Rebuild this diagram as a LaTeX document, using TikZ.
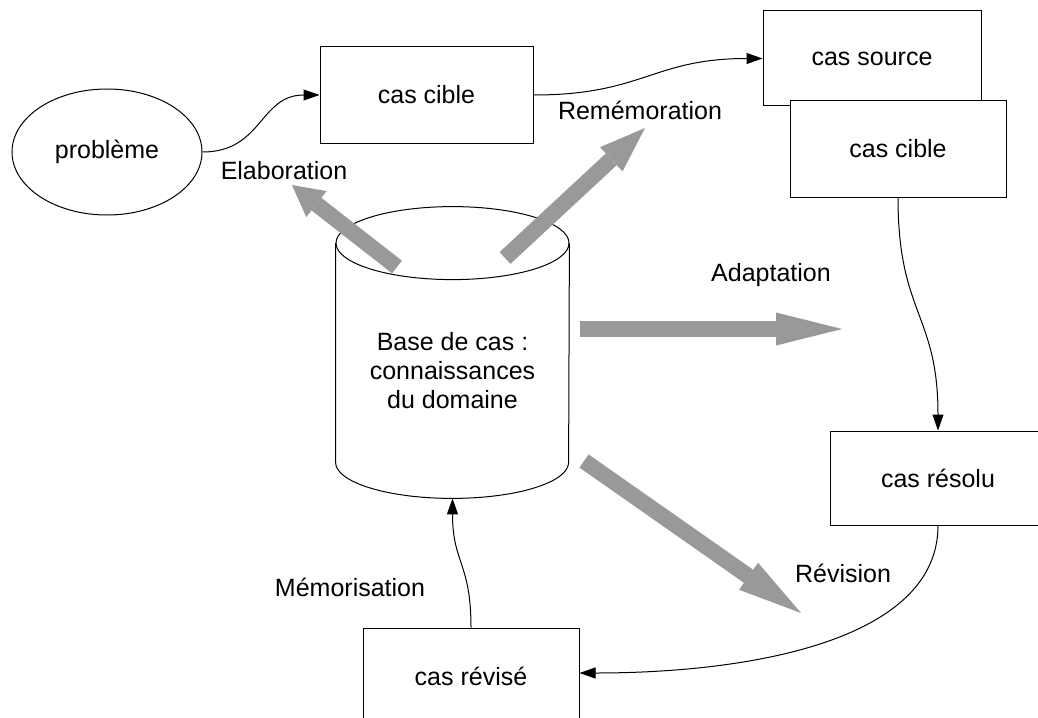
\documentclass[tikz,border=0pt]{standalone}
\usepackage{fontspec}
\setmainfont{Liberation Sans}
\usetikzlibrary{positioning}
\usetikzlibrary{shapes.geometric}
\usetikzlibrary{arrows.meta}
\definecolor{arrowgray}{RGB}{153,153,153}

\begin{document}
\begin{tikzpicture}
	[	x=0.5pt, y=-0.5pt,
		font=\fontsize{12.5}{14.5}\selectfont,
		block/.style={rectangle,draw=black,fill=white,line width=0.5pt,minimum width=108pt,minimum height=48pt,inner sep=0pt},
		vec/.style={-{Triangle[length=8pt,width=5.5pt]},line width=0.5pt},
		bigvec/.style={draw=arrowgray,line width=8pt,-{Triangle[length=#1,width=16.5pt,line width=0pt]}},
		lbl/.style={inner sep=0pt}	]
	\path[use as bounding box,fill=white] (0,0) rectangle (1038,717);
	\clip (0,0) rectangle (1038,717);
	\node[ellipse,draw,line width=0.5pt,minimum width=95pt,minimum height=63pt,inner sep=0pt] (prob) at (107,152) {problème};
	\node[block,minimum width=106.5pt] (cible1) at (426.5,95) {cas cible};
	\node[block,minimum width=109pt,minimum height=47.5pt] (source) at (872,58.5) {cas source};
	\node[block] (cible2) at (898,149) {cas cible};
	\node[block,minimum height=47pt] (resolu) at (938,478) {cas résolu};
	\node[block] (revise) at (471,676) {cas révisé};
	% base de cas
	\node[minimum width=116.5pt,minimum height=145.5pt,inner sep=0pt] (base) at (452.5,352.5) {};
	\draw[line width=0.5pt] ([yshift=-18.25pt]base.north west) -- ([yshift=18pt]base.south west) arc[start angle=180,end angle=360,x radius=58.25pt,y radius=18pt] -- ([yshift=-18.25pt]base.north east);
	\draw[line width=0.5pt] ([yshift=-18.25pt]base.north) ellipse[x radius=58.25pt,y radius=18.25pt];
	\node[align=center] (basetxt) at ([yshift=-9pt]base.center) {Base de cas :\\connaissances\\du domaine};
	% grosses fleches
	\coordinate (elabtail) at (397,267);
	\coordinate (elabtip) at (292,185);
	\coordinate (rememtail) at (505,258);
	\coordinate (rememtip) at (645,128);
	\coordinate (adapttail) at (580,329);
	\coordinate (adapttip) at (842,329);
	\coordinate (revistail) at (584,461);
	\coordinate (revistip) at (801,613);
	\draw[bigvec=15.5pt] (elabtail) -- (elabtip);
	\draw[bigvec=23pt] (rememtail) -- (rememtip);
	\draw[bigvec=33pt] (adapttail) -- (adapttip);
	\draw[bigvec=32pt] (revistail) -- (revistip);
	% liens
	\draw[vec] (prob.east) .. controls +(60,0) and +(-60,0) .. (cible1.west);
	\draw[vec] (cible1.east) .. controls +(110,0) and +(-110,0) .. (source.west);
	\draw[vec] (cible2.south) .. controls +(0,117) and +(0,-117) .. (resolu.north);
	\draw[vec] (resolu.south) .. controls +(0,115) and +(171,0) .. ([yshift=1.5pt]revise.east);
	\draw[vec] (revise.north) .. controls +(0,-65) and +(0,65) .. (base.south);
	% etiquettes
	\node[lbl] (elab) at (284,171) {Elaboration};
	\node[lbl] (remem) at (640,110) {Remémoration};
	\node[lbl] (adapt) at (771,275) {Adaptation};
	\node[lbl] (revis) at (843,573) {Révision};
	\node[lbl] (memor) at (350,587) {Mémorisation};
\end{tikzpicture}
\end{document}
